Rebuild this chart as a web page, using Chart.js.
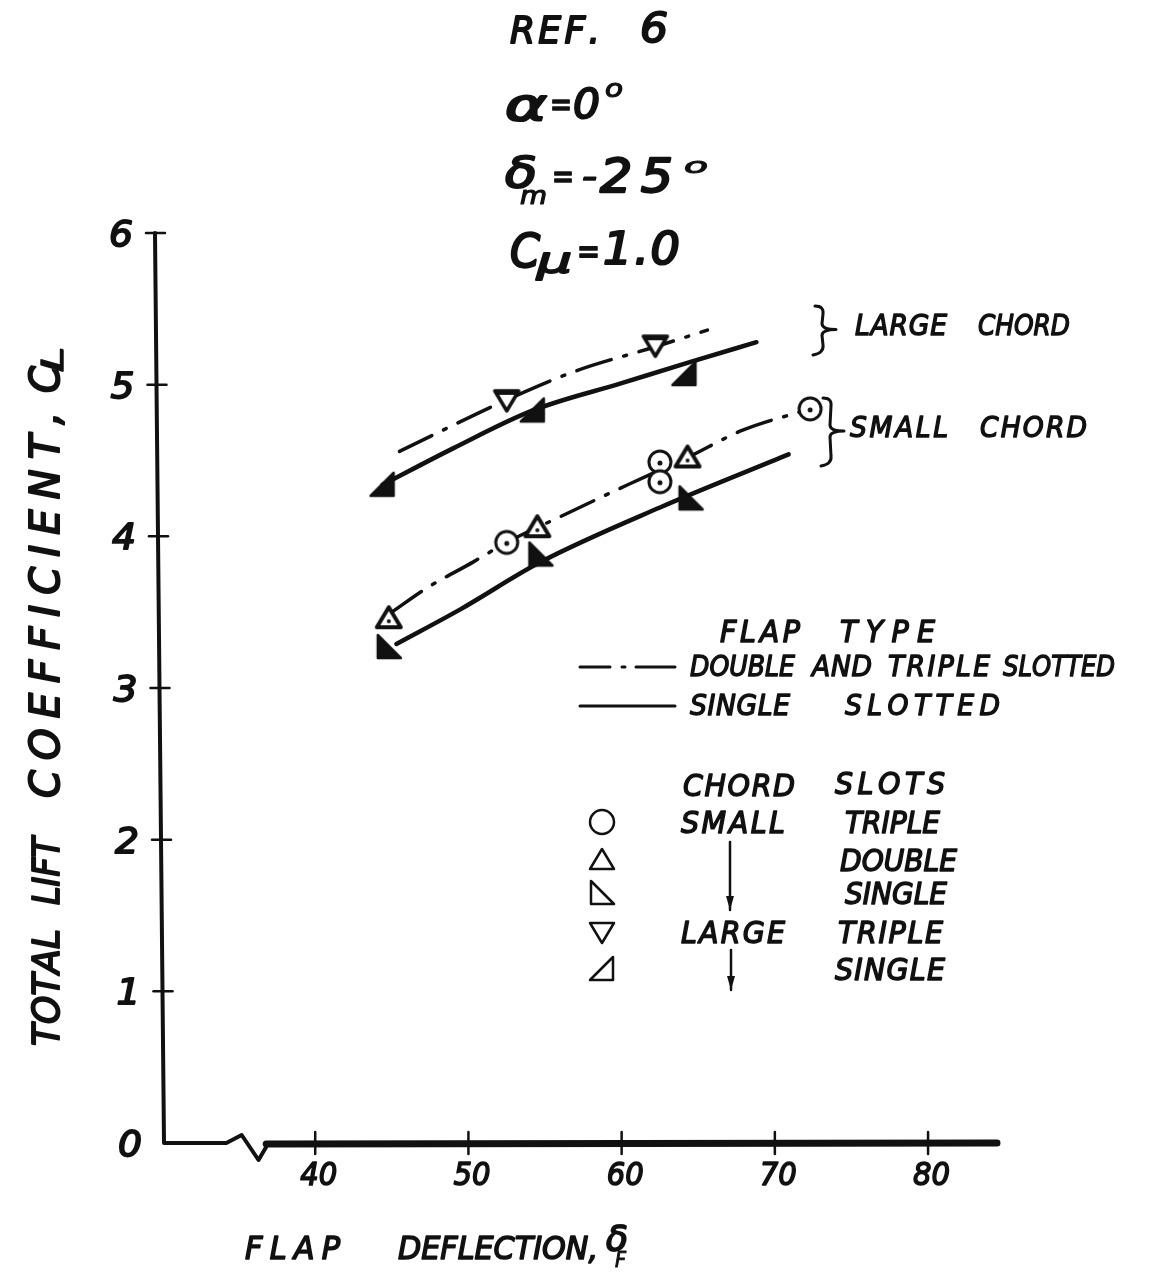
<!DOCTYPE html>
<html>
<head>
<meta charset="utf-8">
<title>Total lift coefficient vs flap deflection</title>
<script src="https://cdn.jsdelivr.net/npm/chart.js@4.4.1/dist/chart.umd.min.js"></script>
<style>
  html, body { margin: 0; padding: 0; background: #fff; }
  #chart { display: block; }
</style>
</head>
<body>
<canvas id="chart" width="1153" height="1273"></canvas>
<script>
// AXES
const flapTicks = [40, 50, 60, 70, 80];
const clTicks = [0, 1, 2, 3, 4, 5, 6];

// TEST POINTS (flap deflection, deg / total CL)
const smallTripleFlap = [52.5, 62.5, 62.5, 72.3];
const smallTripleCL = [3.96, 4.49, 4.36, 4.84];
const smallDoubleFlap = [44.8, 54.5, 64.3];
const smallDoubleCL = [3.46, 4.06, 4.52];
const smallSingleFlap = [44.8, 54.7, 64.5];
const smallSingleCL = [3.27, 3.88, 4.25];
const largeTripleFlap = [52.5, 62.2];
const largeTripleCL = [4.9, 5.26];
const largeSingleFlap = [44.4, 54.2, 64.1];
const largeSingleCL = [4.34, 4.83, 5.07];

// FAIRED CURVES
const largeDashFlap = [45.5, 52.5, 57, 62.2, 65.6];
const largeDashCL = [4.56, 4.9, 5.09, 5.25, 5.36];
const largeSolidFlap = [44.4, 49, 54.2, 60, 64.5, 68.8];
const largeSolidCL = [4.34, 4.58, 4.83, 5.01, 5.15, 5.28];
const smallDashFlap = [45, 47.3, 50.3, 52.5, 56, 60.4, 64.3, 67.9, 72.3];
const smallDashCL = [3.5, 3.66, 3.83, 3.96, 4.13, 4.34, 4.52, 4.7, 4.84];
const smallSolidFlap = [45.3, 49.5, 54.7, 62.5, 70.9];
const smallSolidCL = [3.29, 3.52, 3.83, 4.19, 4.54];

const INK = '#111';
const FONT = '"DejaVu Sans", sans-serif';

const pts = (xs, ys) => xs.map((v, i) => ({ x: v, y: ys[i] }));

// marker shapes, drawn around (0,0)
const shapes = {
  circle(g, plot) {
    g.beginPath(); g.arc(0, 0, plot ? 11 : 12, 0, Math.PI * 2);
    g.fillStyle = '#fff'; g.fill();
    g.lineWidth = plot ? 3 : 2.5; g.stroke();
    if (plot) { g.beginPath(); g.arc(0, 1, 2.5, 0, Math.PI * 2); g.fillStyle = INK; g.fill(); }
  },
  triUp(g, plot) {
    g.beginPath(); g.moveTo(0, -11); g.lineTo(12, 9); g.lineTo(-12, 9); g.closePath();
    g.fillStyle = '#fff'; g.fill();
    g.lineWidth = plot ? 4 : 2.5; g.stroke();
    if (plot) { g.beginPath(); g.arc(0, 3, 2, 0, Math.PI * 2); g.fillStyle = INK; g.fill(); }
  },
  triDown(g, plot) {
    g.beginPath(); g.moveTo(-12, -9); g.lineTo(12, -9); g.lineTo(0, 11); g.closePath();
    g.fillStyle = '#fff'; g.fill();
    g.lineWidth = plot ? 3.5 : 2.5; g.stroke();
    if (plot) { g.fillStyle = INK; g.fillRect(-11, -10, 22, 5); }
  },
  // vertical edge on the right, hypotenuse rising to the right
  wedgeR(g, plot) {
    g.beginPath(); g.moveTo(-12, 11); g.lineTo(11, 11); g.lineTo(11, -12); g.closePath();
    g.lineWidth = 2.5;
    g.fillStyle = plot ? INK : '#fff'; g.fill(); g.stroke();
  },
  // vertical edge on the left, hypotenuse falling to the right
  wedgeL(g, plot) {
    g.beginPath(); g.moveTo(-11, -12); g.lineTo(-11, 11); g.lineTo(12, 11); g.closePath();
    g.lineWidth = 2.5;
    g.fillStyle = plot ? INK : '#fff'; g.fill(); g.stroke();
  }
};

function markerImage(kind) {
  const c = document.createElement('canvas');
  c.width = 34; c.height = 34;
  const g = c.getContext('2d');
  g.translate(17, 17);
  g.strokeStyle = INK; g.lineJoin = 'round';
  shapes[kind](g, true);
  return c;
}

// hand-lettered look: glyphs spread evenly across [x0, x1], centred on yc
function spaced(ctx, s, x0, x1, yc, size, narrow = 0.95) {
  ctx.save();
  ctx.font = `italic ${size}px ${FONT}`;
  ctx.textAlign = 'left'; ctx.textBaseline = 'alphabetic';
  ctx.fillStyle = INK; ctx.strokeStyle = INK; ctx.lineWidth = size * 0.05;
  ctx.lineJoin = 'round';
  const chars = [...s];
  const ws = chars.map(ch => ctx.measureText(ch).width);
  const raw = ws.reduce((a, b) => a + b, 0);
  let k = narrow;
  let gap = chars.length > 1 ? (x1 - x0 - raw * k) / (chars.length - 1) : 0;
  if (chars.length === 1 || gap < 0) { k = (x1 - x0) / raw; gap = 0; }
  const base = yc + size * 0.36;
  let x = x0;
  chars.forEach((ch, i) => {
    ctx.save(); ctx.translate(x, base); ctx.scale(k, 1);
    ctx.fillText(ch, 0, 0); ctx.strokeText(ch, 0, 0);
    ctx.restore();
    x += ws[i] * k + gap;
  });
  ctx.restore();
}

function brace(ctx, x, top, bot, w) {
  const mid = (top + bot) / 2;
  ctx.beginPath();
  ctx.moveTo(x - 3, top);
  ctx.quadraticCurveTo(x + 6, top, x + 5, top + 8);
  ctx.lineTo(x + 4, mid - 6);
  ctx.quadraticCurveTo(x + 4, mid, x + w, mid);
  ctx.quadraticCurveTo(x + 4, mid, x + 4, mid + 6);
  ctx.lineTo(x + 5, bot - 8);
  ctx.quadraticCurveTo(x + 6, bot, x - 5, bot + 2);
  ctx.stroke();
}

function arrowDown(ctx, x, y0, y1) {
  ctx.beginPath(); ctx.moveTo(x, y0); ctx.lineTo(x, y1); ctx.stroke();
  ctx.beginPath(); ctx.moveTo(x - 4, y1 - 14); ctx.lineTo(x, y1); ctx.lineTo(x + 4, y1 - 14); ctx.closePath(); ctx.fill();
}

const annotations = {
  id: 'annotations',
  afterDraw(chart) {
    const { ctx, chartArea: a, scales: { x, y } } = chart;
    const y0 = y.getPixelForValue(0);
    const axisX = v => a.left - 7 + 9 * (6 - v) / 6;
    ctx.save();
    ctx.strokeStyle = INK; ctx.fillStyle = INK;
    ctx.lineCap = 'round'; ctx.lineJoin = 'round';

    // CL axis, slightly leaning
    ctx.lineWidth = 5;
    ctx.beginPath(); ctx.moveTo(axisX(6), y.getPixelForValue(6)); ctx.lineTo(axisX(0), y0);
    // flap axis with break
    ctx.lineTo(x.getPixelForValue(34.2), y0);
    ctx.lineWidth = 4;
    ctx.lineTo(x.getPixelForValue(35.2), y0 - 8);
    ctx.lineTo(x.getPixelForValue(36.3), y0 + 17);
    ctx.lineTo(x.getPixelForValue(36.8), y0 + 4);
    ctx.stroke();
    ctx.lineWidth = 7;
    ctx.beginPath(); ctx.moveTo(x.getPixelForValue(36.8), y0 + 1); ctx.lineTo(a.right, y0); ctx.stroke();

    ctx.lineWidth = 2.5;
    clTicks.forEach(v => {
      const py = y.getPixelForValue(v);
      if (v > 0) { ctx.beginPath(); ctx.moveTo(axisX(v) - 9, py); ctx.lineTo(axisX(v) + 10, py); ctx.stroke(); }
      const lx = axisX(v) - 34;
      spaced(ctx, String(v), lx - 12, lx + 12, py, 36);
    });
    flapTicks.forEach(v => {
      const px = x.getPixelForValue(v);
      ctx.beginPath(); ctx.moveTo(px, y0 - 11); ctx.lineTo(px, y0 + 11); ctx.stroke();
      spaced(ctx, String(v), px - 15, px + 22, y0 + 30, 32, 1);
    });

    // axis titles
    spaced(ctx, 'FLAP', 245, 340, 1247, 32);
    spaced(ctx, 'DEFLECTION,', 398, 598, 1247, 32);
    spaced(ctx, 'δ', 606, 628, 1238, 36);
    spaced(ctx, 'F', 615, 626, 1259, 22);

    ctx.save();
    ctx.translate(45, 0); ctx.rotate(-Math.PI / 2);
    spaced(ctx, 'TOTAL', -1046, -929, 0, 38);
    spaced(ctx, 'LIFT', -905, -837, 0, 38);
    spaced(ctx, 'COEFFICIENT,', -798, -412, 0, 40, 1);
    spaced(ctx, 'C', -393, -366, 0, 40);
    spaced(ctx, 'L', -372, -347, 7, 30);
    ctx.restore();

    // test conditions
    spaced(ctx, 'REF.', 510, 600, 29, 38);
    spaced(ctx, '6', 640, 668, 28, 40);
    spaced(ctx, 'α', 505, 547, 104, 44);
    spaced(ctx, '=', 550, 572, 104, 34);
    spaced(ctx, '0', 573, 600, 104, 40);
    spaced(ctx, 'o', 605, 623, 88, 24);
    spaced(ctx, 'δ', 505, 537, 172, 42);
    spaced(ctx, 'm', 520, 547, 195, 24);
    spaced(ctx, '=', 552, 574, 176, 34);
    spaced(ctx, '-', 582, 597, 176, 34);
    spaced(ctx, '25', 600, 673, 175, 46, 1.1);
    spaced(ctx, 'o', 684, 708, 165, 22);
    spaced(ctx, 'C', 510, 540, 250, 46);
    spaced(ctx, 'μ', 537, 572, 260, 36);
    spaced(ctx, '=', 577, 600, 250, 36);
    spaced(ctx, '1.0', 603, 680, 248, 44, 1.05);

    // chord groups
    ctx.lineWidth = 3;
    brace(ctx, 818, 306, 353, 18);
    spaced(ctx, 'LARGE', 855, 947, 325, 28);
    spaced(ctx, 'CHORD', 978, 1070, 325, 28);
    brace(ctx, 826, 398, 464, 18);
    spaced(ctx, 'SMALL', 850, 948, 427, 28);
    spaced(ctx, 'CHORD', 980, 1087, 427, 28);

    // line key
    spaced(ctx, 'FLAP', 720, 800, 631, 30);
    spaced(ctx, 'TYPE', 840, 935, 631, 30);
    ctx.lineWidth = 3;
    ctx.beginPath();
    ctx.moveTo(580, 667); ctx.lineTo(610, 667);
    ctx.moveTo(622, 667); ctx.lineTo(625, 667);
    ctx.moveTo(636, 667); ctx.lineTo(675, 667);
    ctx.moveTo(580, 706); ctx.lineTo(675, 706);
    ctx.stroke();
    spaced(ctx, 'DOUBLE', 690, 795, 666, 28);
    spaced(ctx, 'AND', 812, 872, 666, 28);
    spaced(ctx, 'TRIPLE', 888, 990, 666, 28);
    spaced(ctx, 'SLOTTED', 1003, 1115, 666, 28);
    spaced(ctx, 'SINGLE', 690, 790, 705, 28);
    spaced(ctx, 'SLOTTED', 845, 1000, 705, 28);

    // symbol key
    spaced(ctx, 'CHORD', 683, 795, 785, 30);
    spaced(ctx, 'SLOTS', 835, 945, 783, 30);
    const keyRows = [
      ['circle', 822, 'SMALL', 'TRIPLE', 845, 940],
      ['triUp', 860, '', 'DOUBLE', 840, 957],
      ['wedgeL', 893, '', 'SINGLE', 845, 947],
      ['triDown', 932, 'LARGE', 'TRIPLE', 838, 943],
      ['wedgeR', 969, '', 'SINGLE', 835, 945]
    ];
    keyRows.forEach(([kind, ry, chord, slots, s0, s1]) => {
      ctx.save(); ctx.translate(602, ry); shapes[kind](ctx, false); ctx.restore();
      if (chord) spaced(ctx, chord, 681, 785, ry, 30);
      spaced(ctx, slots, s0, s1, ry, 30);
    });
    ctx.lineWidth = 2.5; ctx.fillStyle = INK;
    arrowDown(ctx, 730, 842, 910);
    arrowDown(ctx, 731, 950, 990);
    ctx.restore();
  }
};

const markerSet = (label, xs, ys, kind) => ({
  label, data: pts(xs, ys), showLine: false, order: 0,
  pointStyle: markerImage(kind), pointRadius: 12
});
const curve = (label, xs, ys, dash, width) => ({
  label, data: pts(xs, ys), order: 1,
  borderColor: INK, borderWidth: width, borderDash: dash,
  borderCapStyle: 'round', pointRadius: 0, fill: false,
  tension: 0.4, cubicInterpolationMode: 'monotone'
});

new Chart(document.getElementById('chart').getContext('2d'), {
  type: 'line',
  data: {
    datasets: [
      markerSet('Small chord, triple slot', smallTripleFlap, smallTripleCL, 'circle'),
      markerSet('Small chord, double slot', smallDoubleFlap, smallDoubleCL, 'triUp'),
      markerSet('Small chord, single slot', smallSingleFlap, smallSingleCL, 'wedgeL'),
      markerSet('Large chord, triple slot', largeTripleFlap, largeTripleCL, 'triDown'),
      markerSet('Large chord, single slot', largeSingleFlap, largeSingleCL, 'wedgeR'),
      curve('Large chord, double/triple', largeDashFlap, largeDashCL, [36, 13, 3, 13], 3.5),
      curve('Large chord, single', largeSolidFlap, largeSolidCL, [], 4.5),
      curve('Small chord, double/triple', smallDashFlap, smallDashCL, [36, 13, 3, 13], 3.5),
      curve('Small chord, single', smallSolidFlap, smallSolidCL, [], 4.5)
    ]
  },
  options: {
    responsive: false,
    animation: false,
    events: [],
    layout: { padding: { left: 162, right: 156, top: 233, bottom: 130 } },
    scales: {
      x: { type: 'linear', min: 30, max: 84.5, display: false },
      y: { type: 'linear', min: 0, max: 6, display: false }
    },
    plugins: { legend: { display: false }, tooltip: { enabled: false } }
  },
  plugins: [annotations]
});
</script>
</body>
</html>
